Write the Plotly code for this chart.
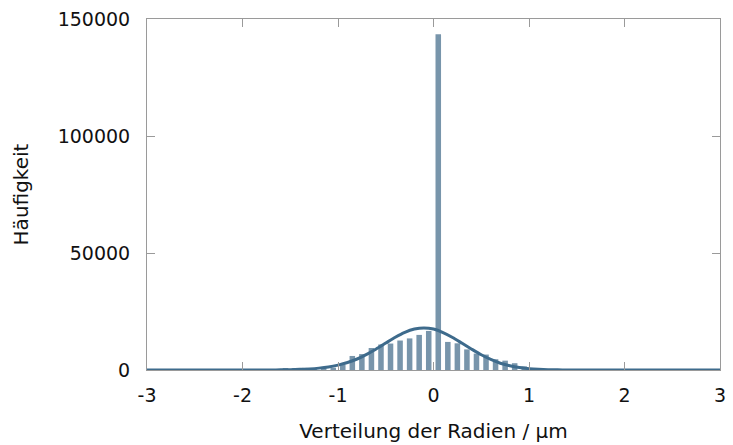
import plotly.graph_objects as go

# Histogram of radius deviations (bin width 0.1 µm, bin centres)
bin_centers = [-1.55, -1.45, -1.35, -1.25, -1.15, -1.05, -0.95, -0.85, -0.75, -0.65,
               -0.55, -0.45, -0.35, -0.25, -0.15, -0.05, 0.05, 0.15, 0.25, 0.35,
               0.45, 0.55, 0.65, 0.75, 0.85, 0.95, 1.05]
counts = [500, 800, 900, 700, 600, 1000, 2300, 6000, 6800, 9400,
          10900, 11300, 12600, 13500, 15000, 16700, 143500, 12000, 11400, 8800,
          7000, 6600, 4600, 4000, 2900, 1500, 500]

# Fitted distribution curve, sampled every 0.1 µm
fit_x = [round(-3 + 0.1 * i, 1) for i in range(61)]
fit_y = ([0] * 14 +
         [80, 150, 280, 480, 800, 1300, 2100, 3200, 4700, 6700,
          9000, 11500, 14000, 16100, 17500, 18000, 17500, 16000, 13900, 11400,
          8900, 6500, 4500, 2900, 1800, 1050, 580, 300, 150, 70, 30] +
         [0] * 16)

x_ticks = [-3, -2, -1, 0, 1, 2, 3]
y_ticks = [0, 50000, 100000, 150000]

FONT = "DejaVu Sans"
AXIS_GREY = "#9a9a9a"

fig = go.Figure()
fig.add_trace(go.Bar(
    x=bin_centers, y=counts,
    marker=dict(color="#7895ab", line=dict(width=0)),
    showlegend=False,
))
fig.add_trace(go.Scatter(
    x=fit_x, y=fit_y, mode="lines",
    line=dict(color="#3e6b8c", width=3, shape="spline", smoothing=0.6),
    cliponaxis=False, showlegend=False,
))

fig.update_layout(
    width=733, height=445,
    margin=dict(l=147, r=13, t=19, b=75),
    paper_bgcolor="white", plot_bgcolor="white",
    bargap=0.42,
    font=dict(family=FONT, size=19, color="#111111"),
)
fig.update_xaxes(
    range=[-3, 3], tickvals=x_ticks, ticktext=[str(v) for v in x_ticks],
    ticks="inside", ticklen=8, tickcolor=AXIS_GREY, tickwidth=1,
    showline=True, linecolor=AXIS_GREY, linewidth=1, mirror="ticks",
    showgrid=False, zeroline=False, automargin=False,
    tickfont=dict(size=19),
    ticklabelstandoff=8,
    title=dict(text="Verteilung der Radien / µm", font=dict(size=20), standoff=19),
)
fig.update_yaxes(
    range=[0, 150000], tickvals=y_ticks, ticktext=[str(v) for v in y_ticks],
    ticks="inside", ticklen=8, tickcolor=AXIS_GREY, tickwidth=1,
    showline=True, linecolor=AXIS_GREY, linewidth=1, mirror="ticks",
    showgrid=False, zeroline=False, automargin=False,
    tickfont=dict(size=19),
    ticklabelstandoff=12,
    title=dict(text="Häufigkeit", font=dict(size=20), standoff=23),
)

fig.write_html("out.html")
